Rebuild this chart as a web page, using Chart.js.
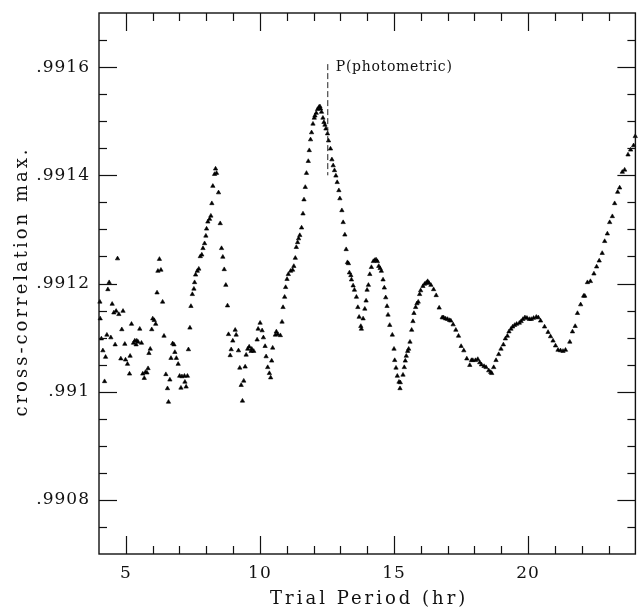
<!DOCTYPE html>
<html>
<head>
<meta charset="utf-8">
<title>Cross-correlation vs trial period</title>
<script src="https://cdn.jsdelivr.net/npm/chart.js@4.4.1/dist/chart.umd.min.js"></script>
<style>
  html, body { margin: 0; padding: 0; background: #fff; }
  #wrap { width: 640px; height: 611px; }
</style>
</head>
<body>
<div id="wrap"><canvas id="ccChart"></canvas></div>
<script>
// trial period (hr) and the cross-correlation maximum found at that period
const periodHours = [
  4.033, 4.045, 4.089, 4.145, 4.208, 4.245, 4.294, 4.331, 4.379, 4.442,
  4.491, 4.554, 4.602, 4.639, 4.691, 4.740, 4.814, 4.851, 4.896, 4.963,
  4.989, 5.063, 5.138, 5.160, 5.212, 5.286, 5.335, 5.383, 5.409, 5.457,
  5.520, 5.584, 5.632, 5.688, 5.732, 5.788, 5.829, 5.862, 5.911, 5.967,
  6.004, 6.059, 6.115, 6.164, 6.197, 6.253, 6.309, 6.372, 6.424, 6.494,
  6.554, 6.591, 6.643, 6.684, 6.747, 6.796, 6.829, 6.885, 6.952, 7.007,
  7.056, 7.093, 7.186, 7.204, 7.249, 7.297, 7.335, 7.390, 7.428, 7.480,
  7.539, 7.565, 7.602, 7.665, 7.721, 7.777, 7.833, 7.877, 7.937, 7.985,
  8.011, 8.059, 8.123, 8.171, 8.208, 8.245, 8.309, 8.346, 8.383, 8.457,
  8.520, 8.569, 8.617, 8.669, 8.729, 8.792, 8.829, 8.892, 8.929, 8.989,
  9.078, 9.115, 9.201, 9.249, 9.301, 9.349, 9.398, 9.450, 9.487, 9.546,
  9.599, 9.673, 9.695, 9.770, 9.896, 9.933, 10.007, 10.082, 10.130, 10.193,
  10.231, 10.290, 10.353, 10.401, 10.439, 10.476, 10.576, 10.613, 10.662, 10.762,
  10.825, 10.862, 10.922, 10.959, 11.011, 11.059, 11.145, 11.219, 11.264, 11.320,
  11.357, 11.405, 11.442, 11.487, 11.554, 11.606, 11.643, 11.691, 11.736, 11.803,
  11.840, 11.888, 11.926, 11.978, 12.026, 12.052, 12.100, 12.149, 12.201, 12.238,
  12.260, 12.297, 12.349, 12.387, 12.424, 12.461, 12.520, 12.558, 12.632, 12.684,
  12.732, 12.781, 12.833, 12.881, 12.944, 12.981, 13.056, 13.104, 13.167, 13.216,
  13.264, 13.301, 13.338, 13.390, 13.413, 13.476, 13.524, 13.599, 13.651, 13.699,
  13.762, 13.784, 13.848, 13.911, 13.959, 13.996, 14.045, 14.097, 14.156, 14.230,
  14.283, 14.331, 14.379, 14.431, 14.480, 14.528, 14.591, 14.639, 14.691, 14.740,
  14.777, 14.840, 14.937, 15.000, 15.026, 15.074, 15.123, 15.186, 15.223, 15.234,
  15.335, 15.383, 15.420, 15.457, 15.509, 15.546, 15.595, 15.658, 15.706, 15.743,
  15.807, 15.855, 15.903, 15.955, 15.993, 16.078, 16.141, 16.201, 16.253, 16.301,
  16.375, 16.476, 16.572, 16.684, 16.796, 16.848, 16.922, 16.996, 17.071, 17.119,
  17.204, 17.305, 17.405, 17.502, 17.602, 17.714, 17.825, 17.888, 17.937, 18.037,
  18.123, 18.197, 18.260, 18.357, 18.431, 18.532, 18.606, 18.643, 18.717, 18.803,
  18.903, 18.989, 19.078, 19.152, 19.227, 19.286, 19.361, 19.424, 19.498, 19.572,
  19.673, 19.740, 19.807, 19.881, 19.956, 20.045, 20.119, 20.204, 20.305, 20.379,
  20.465, 20.613, 20.743, 20.836, 20.929, 21.022, 21.115, 21.208, 21.301, 21.394,
  21.554, 21.654, 21.755, 21.840, 21.959, 22.071, 22.112, 22.212, 22.323, 22.454,
  22.554, 22.651, 22.762, 22.855, 22.955, 23.041, 23.141, 23.227, 23.338, 23.413,
  23.513, 23.599, 23.725, 23.822, 23.933, 23.995
];

const crossCorrMax = [
  0.991166, 0.991135, 0.991098, 0.991076, 0.991019, 0.991064, 0.991105, 0.991189, 0.991202, 0.991100,
  0.991162, 0.991146, 0.991087, 0.991149, 0.991246, 0.991143, 0.991061, 0.991115, 0.991149, 0.991088,
  0.991059, 0.991051, 0.991033, 0.991066, 0.991125, 0.991090, 0.991094, 0.991087, 0.991094, 0.991092,
  0.991116, 0.991090, 0.991033, 0.991025, 0.991036, 0.991035, 0.991043, 0.991071, 0.991079, 0.991115,
  0.991135, 0.991132, 0.991125, 0.991183, 0.991223, 0.991245, 0.991225, 0.991166, 0.991103, 0.991032,
  0.991006, 0.990981, 0.991022, 0.991062, 0.991089, 0.991087, 0.991073, 0.991062, 0.991051, 0.991029,
  0.991007, 0.991028, 0.991029, 0.991018, 0.991009, 0.991029, 0.991078, 0.991118, 0.991158, 0.991180,
  0.991190, 0.991202, 0.991216, 0.991223, 0.991227, 0.991250, 0.991253, 0.991265, 0.991274, 0.991288,
  0.991301, 0.991314, 0.991319, 0.991325, 0.991348, 0.991380, 0.991402, 0.991412, 0.991404, 0.991368,
  0.991311, 0.991265, 0.991249, 0.991226, 0.991197, 0.991159, 0.991106, 0.991067, 0.991078, 0.991094,
  0.991114, 0.991105, 0.991076, 0.991044, 0.991012, 0.990983, 0.991020, 0.991046, 0.991068, 0.991079,
  0.991083, 0.991075, 0.991079, 0.991075, 0.991096, 0.991116, 0.991127, 0.991113, 0.991100, 0.991084,
  0.991065, 0.991045, 0.991034, 0.991026, 0.991057, 0.991081, 0.991105, 0.991111, 0.991106, 0.991104,
  0.991129, 0.991156, 0.991175, 0.991193, 0.991208, 0.991217, 0.991223, 0.991225, 0.991232, 0.991247,
  0.991267, 0.991276, 0.991283, 0.991289, 0.991303, 0.991329, 0.991355, 0.991378, 0.991404, 0.991426,
  0.991446, 0.991466, 0.991479, 0.991495, 0.991506, 0.991510, 0.991515, 0.991522, 0.991526, 0.991527,
  0.991523, 0.991517, 0.991506, 0.991498, 0.991493, 0.991486, 0.991477, 0.991464, 0.991449, 0.991429,
  0.991418, 0.991409, 0.991399, 0.991387, 0.991372, 0.991357, 0.991335, 0.991313, 0.991290, 0.991263,
  0.991239, 0.991237, 0.991220, 0.991215, 0.991207, 0.991196, 0.991188, 0.991175, 0.991156, 0.991138,
  0.991121, 0.991116, 0.991135, 0.991153, 0.991168, 0.991188, 0.991197, 0.991217, 0.991230, 0.991241,
  0.991243, 0.991244, 0.991241, 0.991232, 0.991228, 0.991223, 0.991207, 0.991192, 0.991174, 0.991158,
  0.991142, 0.991123, 0.991105, 0.991079, 0.991058, 0.991044, 0.991029, 0.991018, 0.991006, 0.991017,
  0.991031, 0.991045, 0.991057, 0.991066, 0.991075, 0.991079, 0.991092, 0.991114, 0.991130, 0.991145,
  0.991156, 0.991163, 0.991166, 0.991180, 0.991187, 0.991195, 0.991199, 0.991201, 0.991204, 0.991201,
  0.991197, 0.991189, 0.991178, 0.991155, 0.991137, 0.991137, 0.991135, 0.991134, 0.991132, 0.991131,
  0.991124, 0.991114, 0.991103, 0.991084, 0.991076, 0.991061, 0.991049, 0.991058, 0.991058, 0.991058,
  0.991060, 0.991054, 0.991050, 0.991047, 0.991045, 0.991039, 0.991036, 0.991034, 0.991045, 0.991058,
  0.991069, 0.991079, 0.991087, 0.991098, 0.991103, 0.991111, 0.991116, 0.991120, 0.991123, 0.991125,
  0.991127, 0.991130, 0.991134, 0.991137, 0.991136, 0.991134, 0.991134, 0.991136, 0.991138, 0.991137,
  0.991131, 0.991120, 0.991110, 0.991102, 0.991094, 0.991085, 0.991077, 0.991076, 0.991075, 0.991077,
  0.991092, 0.991111, 0.991121, 0.991145, 0.991161, 0.991177, 0.991177, 0.991202, 0.991204, 0.991218,
  0.991231, 0.991242, 0.991256, 0.991278, 0.991292, 0.991313, 0.991324, 0.991348, 0.991369, 0.991377,
  0.991406, 0.991410, 0.991438, 0.991447, 0.991455, 0.991472
];

// axis extents, tick spacing and labelled (long) ticks
const xRange = [4, 24];
const yRange = [0.9907, 0.9917];
const xMinorStep = 1;
const yMinorStep = 0.00005;
const xTickMajor = [5, 10, 15, 20];
const yTickMajor = [0.9908, 0.991, 0.9912, 0.9914, 0.9916];
const xTitle = "Trial Period (hr)";
const yTitle = "cross-correlation max.";

// photometric period marker
const photometricPeriod = 12.53;
const markerSpan = [0.9914, 0.9916];
const markerLabel = "P(photometric)";

const SERIF = "'DejaVu Serif', 'Liberation Serif', serif";

function isMajor(list, v) {
  return list.some((m) => Math.abs(m - v) < 1e-7);
}

// ".9916" style labels, trailing zeros dropped (".991")
function formatCorr(v) {
  return v.toFixed(4).replace(/^0/, "").replace(/0+$/, "");
}

function tickValues(range, step) {
  const n = Math.round((range[1] - range[0]) / step);
  const out = [];
  for (let i = 1; i < n; i++) out.push(range[0] + i * step);
  return out;
}

const points = periodHours.map((p, i) => ({ x: p, y: crossCorrMax[i] }));

// the typeset labels are set a little loose
const looseText = {
  id: "looseText",
  beforeDraw(chart) {
    chart.ctx.letterSpacing = "1px";
  },
};

// box, inward ticks on all four sides, marker and axis titles
const decorations = {
  id: "decorations",
  afterDraw(chart) {
    const { ctx, chartArea: a, scales } = chart;
    const seg = (x1, y1, x2, y2) => {
      ctx.beginPath();
      ctx.moveTo(x1, y1);
      ctx.lineTo(x2, y2);
      ctx.stroke();
    };
    ctx.save();
    ctx.setLineDash([]);
    ctx.strokeStyle = "#111";
    ctx.lineWidth = 1.4;
    ctx.strokeRect(a.left, a.top, a.right - a.left, a.bottom - a.top);

    ctx.lineWidth = 1.2;
    tickValues(xRange, xMinorStep).forEach((v) => {
      const px = Math.round(scales.x.getPixelForValue(v)) + 0.5;
      const len = isMajor(xTickMajor, v) ? 18 : 8;
      seg(px, a.bottom, px, a.bottom - len);
      seg(px, a.top, px, a.top + len);
    });
    tickValues(yRange, yMinorStep).forEach((v) => {
      const py = Math.round(scales.y.getPixelForValue(v)) + 0.5;
      const len = isMajor(yTickMajor, v) ? 18 : 8;
      seg(a.left, py, a.left + len, py);
      seg(a.right, py, a.right - len, py);
    });

    // dashed line at the photometric period
    const px = scales.x.getPixelForValue(photometricPeriod);
    const yLow = scales.y.getPixelForValue(markerSpan[0]);
    const yHigh = scales.y.getPixelForValue(markerSpan[1]);
    ctx.strokeStyle = "#222";
    ctx.lineWidth = 1;
    ctx.setLineDash([6, 3]);
    seg(px, yHigh - 3, px, yLow);
    ctx.setLineDash([]);

    ctx.fillStyle = "#111";
    ctx.letterSpacing = "0.7px";
    ctx.font = "14px " + SERIF;
    ctx.textAlign = "left";
    ctx.textBaseline = "middle";
    ctx.fillText(markerLabel, px + 8, yHigh);

    ctx.letterSpacing = "3px";
    ctx.font = "18px " + SERIF;
    ctx.textAlign = "center";
    ctx.fillText(xTitle, (a.left + a.right) / 2 + 2, 599);

    ctx.translate(22, (a.top + a.bottom) / 2);
    ctx.rotate(-Math.PI / 2);
    ctx.fillText(yTitle, 2, 0);
    ctx.restore();
  },
};

new Chart(document.getElementById("ccChart"), {
  type: "scatter",
  data: {
    datasets: [
      {
        data: points,
        pointStyle: "triangle",
        pointRadius: 2.5,
        pointBorderWidth: 0.6,
        pointBackgroundColor: "#000",
        pointBorderColor: "#000",
        showLine: false,
        clip: false,
      },
    ],
  },
  options: {
    responsive: true,
    maintainAspectRatio: false,
    animation: false,
    layout: { padding: { top: 13, right: 2, left: 0, bottom: 0 } },
    plugins: {
      legend: { display: false },
      tooltip: { enabled: false },
    },
    scales: {
      x: {
        type: "linear",
        min: xRange[0],
        max: xRange[1],
        border: { display: false },
        grid: { display: false, drawTicks: false },
        ticks: {
          stepSize: xMinorStep,
          autoSkip: false,
          maxRotation: 0,
          padding: 9,
          color: "#111",
          font: { family: SERIF, size: 17 },
          callback: (v) => (isMajor(xTickMajor, v) ? String(v) : ""),
        },
        afterFit: (scale) => {
          scale.height = 57;
          scale.paddingLeft = 0;
          scale.paddingRight = 0;
        },
      },
      y: {
        type: "linear",
        min: yRange[0],
        max: yRange[1],
        border: { display: false },
        grid: { display: false, drawTicks: false },
        ticks: {
          stepSize: yMinorStep,
          autoSkip: false,
          padding: 9,
          color: "#111",
          font: { family: SERIF, size: 17 },
          callback: (v) => (isMajor(yTickMajor, v) ? formatCorr(v) : ""),
        },
        afterFit: (scale) => {
          scale.width = 99;
          scale.paddingTop = 0;
          scale.paddingBottom = 0;
        },
      },
    },
  },
  plugins: [looseText, decorations],
});
</script>
</body>
</html>
